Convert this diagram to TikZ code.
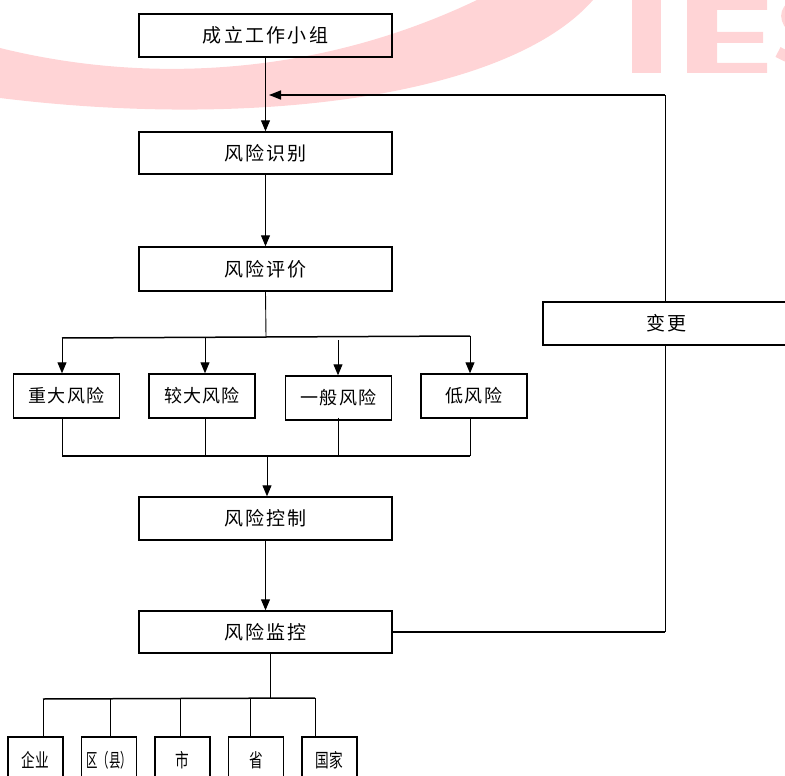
\documentclass[tikz,border=0pt]{standalone}
\usepackage{fontspec}
\newfontfamily\cjk{Noto Sans CJK SC}
\newfontfamily\cjkls[LetterSpace=12]{Noto Sans CJK SC}
\newfontfamily\cjksm[LetterSpace=6]{Noto Sans CJK SC}
\usetikzlibrary{arrows.meta}
\definecolor{wmpink}{RGB}{255,212,214}
\begin{document}
\begin{tikzpicture}[x=1pt,y=-1pt,
  bigbox/.style={draw, line width=1.4pt, inner sep=0pt, minimum width=253pt,
    font=\cjkls\fontsize{19}{21}\selectfont},
  riskbox/.style={draw, line width=1.4pt, inner sep=0pt, minimum width=106pt, minimum height=44pt,
    font=\cjksm\fontsize{18}{20}\selectfont},
  levelbox/.style={draw, line width=1.4pt, inner sep=0pt, minimum width=55pt, minimum height=46pt,
    font=\cjk\fontsize{19}{21}\selectfont},
  conn/.style={line width=0.9pt},
  bus/.style={line width=1.5pt},
  arr/.style={conn, -{Triangle[length=11pt,width=9pt]}},
  wm/.style={fill=wmpink, draw=none}]
\useasboundingbox (0,0) rectangle (785,776);
\clip (0,0) rectangle (785,776);
% watermark
\fill[wm] (0,48) .. controls (150,85) and (320,75) .. (477,0) -- (593,0)
  .. controls (510,95) and (260,130) .. (0,98) -- cycle;
\fill[wm] (632,0) rectangle (661,73);
\fill[wm] (687,0) -- (767,0) -- (767,10) -- (717,10) -- (717,32) -- (763,32) -- (763,43)
  -- (717,43) -- (717,63) -- (767,63) -- (767,73) -- (687,73) -- cycle;
\draw[wmpink, line width=11pt] (840,6) .. controls (800,-8) and (772,10) .. (795,30)
  .. controls (845,55) and (820,75) .. (778,52);
% main boxes
\node[bigbox, minimum height=43pt] (n1) at (265.5,35.5) {成立工作小组};
\node[bigbox, minimum height=42pt] (n2) at (265.5,153) {风险识别};
\node[bigbox, minimum height=44pt] (n3) at (265.5,269) {风险评价};
\node[riskbox] (r1) at (66.5,396) {重大风险};
\node[riskbox] (r2) at (202,396) {较大风险};
\node[riskbox] (r3) at (338.5,398) {一般风险};
\node[riskbox] (r4) at (474,396) {低风险};
\node[bigbox, minimum height=43pt] (n4) at (265.5,518.5) {风险控制};
\node[bigbox, minimum height=42pt] (n5) at (265.5,632) {风险监控};
\node[draw, line width=1.4pt, inner sep=0pt, minimum width=247pt, minimum height=43pt,
  font=\cjkls\fontsize{19}{21}\selectfont] (cg) at (666.5,323.5) {变更};
\node[levelbox] (l1) at (35.5,760) {\scalebox{0.72}[1]{企业}};
\node[levelbox] (l2) at (109,760) {\scalebox{0.6}[1]{区（县）}};
\node[levelbox] (l3) at (182.5,760) {\scalebox{0.72}[1]{市}};
\node[levelbox] (l4) at (256,760) {\scalebox{0.72}[1]{省}};
\node[levelbox] (l5) at (329.5,760) {\scalebox{0.72}[1]{国家}};
% coordinates
\coordinate (fb) at (269,95);
\coordinate (t1) at (62,338);
\coordinate (t2) at (205,337.5);
\coordinate (t3) at (338,340);
\coordinate (t4) at (470,336);
\coordinate (tm) at (266,337);
\coordinate (u1) at (62,456);
\coordinate (u2) at (205,456);
\coordinate (u3) at (338,456);
\coordinate (u4) at (470,456);
\coordinate (um) at (267,456);
\coordinate (mc) at (665,632);
\coordinate (v1) at (43,699);
\coordinate (v2) at (110,699);
\coordinate (v3) at (180,699);
\coordinate (v4) at (250,699);
\coordinate (v5) at (315,698);
\coordinate (vm) at (270,699);
% connectors
\draw[arr] (n1.south) -- (n2.north);
\draw[conn] (cg.north -| mc) -- (mc |- fb);
\draw[bus, -{Triangle[length=12pt,width=9pt]}] (mc |- fb) -- (fb);
\draw[arr] (n2.south) -- (n3.north);
\draw[conn] (n3.south) -- (tm);
\draw[bus] (t1) -- (t4);
\draw[arr] (t1) -- (t1 |- r1.north);
\draw[arr] (t2) -- (t2 |- r2.north);
\draw[arr] (t3) -- (t3 |- r3.north);
\draw[arr] (t4) -- (t4 |- r4.north);
\draw[conn] (u1 |- r1.south) -- (u1);
\draw[conn] (u2 |- r2.south) -- (u2);
\draw[conn] (u3 |- r3.south) ++(0,-3) -- (u3);
\draw[conn] (u4 |- r4.south) -- (u4);
\draw[bus] (u1) -- (u4);
\draw[arr] (um) -- (um |- n4.north);
\draw[arr] (n4.south) -- (n4.south |- n5.north);
\draw[bus] (n5.east) -- (mc);
\draw[conn] (mc) -- (cg.south -| mc);
\draw[conn] (vm |- n5.south) -- (vm);
\draw[bus] (v1) -- (v5);
\draw[conn] (v1) -- (v1 |- l1.north);
\draw[conn] (v2) -- (v2 |- l2.north);
\draw[conn] (v3) -- (v3 |- l3.north);
\draw[conn] (v4) -- (v4 |- l4.north);
\draw[conn] (v5) -- (v5 |- l5.north);
\end{tikzpicture}
\end{document}
